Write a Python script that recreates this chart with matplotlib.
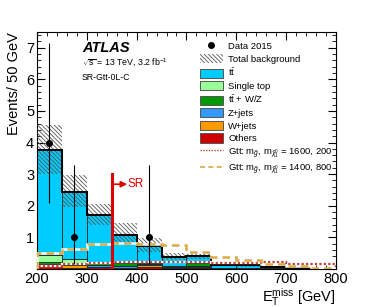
import numpy as np
import matplotlib
matplotlib.use("Agg")
import matplotlib.pyplot as plt
from matplotlib.patches import Patch
from matplotlib.lines import Line2D
from matplotlib.ticker import MultipleLocator, FixedFormatter, FixedLocator

plt.rcParams["font.family"] = ["Liberation Sans", "DejaVu Sans"]
plt.rcParams["mathtext.fontset"] = "custom"
plt.rcParams["mathtext.rm"] = "Liberation Sans"
plt.rcParams["mathtext.it"] = "Liberation Sans:italic"
plt.rcParams["mathtext.bf"] = "Liberation Sans:bold"
plt.rcParams["hatch.linewidth"] = 0.6

# binning: E_T^miss from 200 to 800 GeV in 50 GeV bins
edges = np.arange(200, 801, 50)

# background stack (events / 50 GeV), bottom to top
others    = [0.13, 0.02, 0.05, 0.02, 0.05, 0.02, 0.04, 0.00, 0.00, 0.00, 0.00, 0.00]
wjets     = [0.02, 0.10, 0.02, 0.02, 0.08, 0.01, 0.02, 0.00, 0.00, 0.00, 0.00, 0.00]
zjets     = [0.02, 0.02, 0.05, 0.04, 0.02, 0.02, 0.04, 0.02, 0.01, 0.01, 0.00, 0.00]
ttv       = [0.05, 0.03, 0.06, 0.10, 0.03, 0.03, 0.10, 0.02, 0.02, 0.01, 0.01, 0.00]
singletop = [0.22, 0.15, 0.04, 0.03, 0.02, 0.02, 0.02, 0.00, 0.00, 0.00, 0.00, 0.00]
ttbar     = [3.32, 2.11, 1.50, 0.86, 0.54, 0.29, 0.19, 0.10, 0.11, 0.04, 0.02, 0.00]

# total background uncertainty band
bkg_lo = [3.00, 1.95, 1.40, 0.78, 0.52, 0.28, 0.30, 0.08, 0.06, 0.02, 0.00, 0.00]
bkg_hi = [4.55, 2.97, 2.06, 1.45, 0.97, 0.50, 0.55, 0.20, 0.22, 0.10, 0.06, 0.00]

# signal models
gtt_1600_200 = [0.08, 0.15, 0.19, 0.21, 0.22, 0.22, 0.22, 0.19, 0.20, 0.21, 0.17, 0.17]
gtt_1400_800 = [0.49, 0.64, 0.78, 0.83, 0.78, 0.77, 0.54, 0.39, 0.29, 0.15, 0.09, 0.04]

# data (only non-empty bins), with asymmetric Poisson errors
data_x  = [225, 275, 425]
data_y  = [4, 1, 1]
data_up = [3.16, 2.30, 2.30]
data_dn = [1.91, 0.83, 0.83]

TTBAR = r"$\mathrm{t}\bar{\mathrm{t}}$"
stack = [
    ("Others", others, "#cc0000"),
    ("W+jets", wjets, "#ff9900"),
    ("Z+jets", zjets, "#3399ff"),
    (TTBAR + " + W/Z", ttv, "#009900"),
    ("Single top", singletop, "#99ff99"),
    (TTBAR, ttbar, "#00ccff"),
]
HATCH = "\\" * 8

fig = plt.figure(figsize=(3.74, 3.07), dpi=100)
ax = fig.add_axes([0.099, 0.124, 0.799, 0.772])

centers = edges[:-1] + 25
bottom = np.zeros(len(centers))
for name, vals, col in stack:
    ax.bar(centers, vals, width=50, bottom=bottom, color=col,
           edgecolor="#222222", linewidth=0.6, zorder=2)
    bottom = bottom + np.array(vals)

total = bottom
lo = np.array(bkg_lo)
hi = np.array(bkg_hi)
ax.bar(centers, hi - lo, width=50, bottom=lo, facecolor="none",
       edgecolor="#555555", hatch=HATCH, linewidth=0, zorder=3)
ax.stairs(total, edges, color="black", linewidth=1.4, zorder=4)

# signals drawn on a white underlay, as in the original
ax.stairs(gtt_1600_200, edges, color="white", linewidth=1.6, zorder=5)
ax.stairs(gtt_1600_200, edges, color="#c0443a", linewidth=1.6,
          linestyle=(0, (1, 1)), zorder=6)
ax.stairs(gtt_1400_800, edges, color="white", linewidth=1.8, zorder=5)
ax.stairs(gtt_1400_800, edges, color="#d9aa45", linewidth=1.8,
          linestyle=(0, (3, 2)), zorder=6)

ax.errorbar(data_x, data_y, yerr=[data_dn, data_up], fmt="o", color="black",
            markersize=4, elinewidth=0.8, capsize=0, zorder=8)

# signal region marker
ax.plot([350, 350], [0, 3.0], color="#dd0000", linewidth=2.2, zorder=9)
ax.annotate("", xy=(381, 2.68), xytext=(350, 2.68),
            arrowprops=dict(arrowstyle="-|>", color="#dd0000", lw=1.2,
                            mutation_scale=9, shrinkA=0, shrinkB=0), zorder=9)
ax.text(382, 2.68, "SR", color="#dd0000", fontsize=8.5, va="center", ha="left", zorder=9)

ax.set_xlim(200, 800)
ax.set_ylim(0, 7.5)
ax.xaxis.set_major_locator(MultipleLocator(100))
ax.xaxis.set_minor_locator(MultipleLocator(20))
ax.yaxis.set_major_locator(FixedLocator([0, 1, 2, 3, 4, 5, 6, 7]))
ax.yaxis.set_major_formatter(FixedFormatter(["", "1", "2", "3", "4", "5", "6", "7"]))
ax.yaxis.set_minor_locator(MultipleLocator(0.2))
ax.tick_params(which="both", direction="in", top=True, right=True, labelsize=10.5)
ax.tick_params(which="major", length=6, width=0.8)
ax.tick_params(which="minor", length=3, width=0.6)
ax.tick_params(axis="x", pad=2)
ax.tick_params(axis="y", pad=2)
for s in ax.spines.values():
    s.set_linewidth(0.8)

ax.set_xlabel(r"E$_{\mathrm{T}}^{\mathrm{miss}}$ [GeV]", fontsize=10.5, loc="right", labelpad=0)
ax.set_ylabel("Events/ 50 GeV", fontsize=10.5, loc="top", labelpad=4)

ax.text(0.15, 0.932, "ATLAS", transform=ax.transAxes, fontsize=10.5,
        fontweight="bold", fontstyle="italic", va="center", ha="left")
ax.text(0.15, 0.868, r"$\sqrt{\mathrm{s}}$ = 13 TeV, 3.2 fb$^{-1}$", transform=ax.transAxes,
        fontsize=6.3, va="center", ha="left")
ax.text(0.15, 0.807, "SR-Gtt-0L-C", transform=ax.transAxes,
        fontsize=6.3, va="center", ha="left")

handles = [
    Line2D([], [], marker="o", color="black", linestyle="none", markersize=4),
    Patch(facecolor="none", edgecolor="#555555", hatch=HATCH, linewidth=0),
]
labels = ["Data 2015", "Total background"]
for name, vals, col in reversed(stack):
    handles.append(Patch(facecolor=col, edgecolor="#555555", linewidth=0.7))
    labels.append(name)
handles.append(Line2D([], [], color="#c0443a", linewidth=1.0, linestyle=(0, (1, 1))))
labels.append(r"Gtt: m$_{\tilde{g}}$, m$_{\tilde{\chi}^{0}_{1}}$ = 1600, 200")
handles.append(Line2D([], [], color="#d9aa45", linewidth=1.2, linestyle=(0, (3, 2))))
labels.append(r"Gtt: m$_{\tilde{g}}$, m$_{\tilde{\chi}^{0}_{1}}$ = 1400, 800")

ax.legend(handles, labels, loc="upper left", bbox_to_anchor=(0.545, 0.96),
          fontsize=6.8, frameon=False, handlelength=2.45, handleheight=1.1,
          labelspacing=0.3, handletextpad=0.55, borderpad=0, borderaxespad=0)

fig.savefig("out.png", dpi=100)
